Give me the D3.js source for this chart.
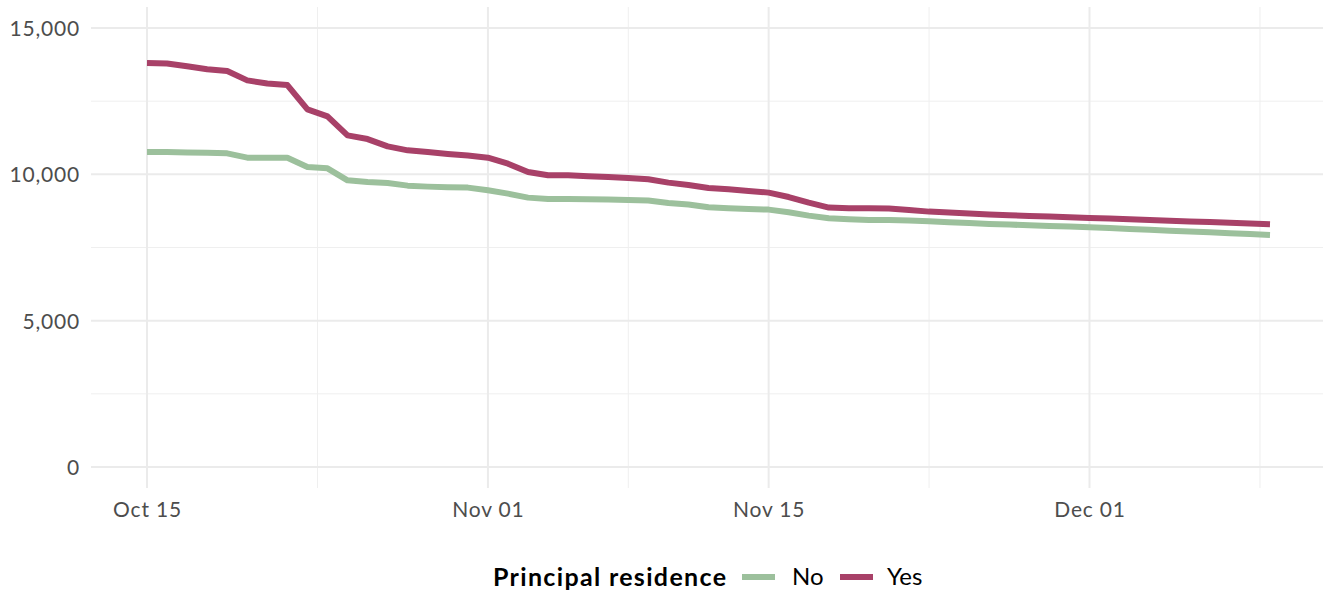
<!DOCTYPE html>
<html>
<head>
<meta charset="utf-8">
<script src="https://cdn.jsdelivr.net/npm/d3@7"></script>
<style>
  body { margin: 0; background: white; }
  svg text { font-family: Lato, "Open Sans", sans-serif; }
</style>
</head>
<body>
<svg id="chart" width="1323" height="592"></svg>
<script>
// daily counts, Oct 15 to Dec 10
var startDay = '2021-10-15'
var valuesNo = [10762, 10760, 10750, 10740, 10717, 10570, 10563, 10565, 10250, 10205,
  9795, 9737, 9703, 9614, 9580, 9556, 9546, 9454, 9340, 9204,
  9157, 9157, 9147, 9136, 9122, 9105, 9021, 8966, 8874, 8840,
  8817, 8795, 8703, 8590, 8498, 8464, 8442, 8442, 8420, 8396,
  8362, 8340, 8305, 8283, 8260, 8236, 8215, 8192, 8163, 8134,
  8104, 8075, 8046, 8017, 7988, 7958, 7928]
var valuesYes = [13800, 13790, 13690, 13590, 13530, 13210, 13105, 13050, 12220, 11980,
  11330, 11205, 10955, 10820, 10760, 10695, 10640, 10570, 10365, 10080,
  9966, 9966, 9932, 9910, 9874, 9830, 9717, 9635, 9533, 9488,
  9430, 9375, 9225, 9034, 8863, 8840, 8840, 8829, 8782, 8726,
  8692, 8658, 8624, 8601, 8578, 8556, 8533, 8510, 8487, 8463,
  8440, 8416, 8392, 8368, 8344, 8320, 8294]
var seriesNames = ['No', 'Yes']
var seriesColors = ['#9cc09c', '#a84168']
var xTickLabels = ['Oct 15', 'Nov 01', 'Nov 15', 'Dec 01']
var xTickDates = ['2021-10-15', '2021-11-01', '2021-11-15', '2021-12-01']
var xMinorDates = ['2021-10-23T12:00', '2021-11-08', '2021-11-23', '2021-12-09T12:00']
var yTicks = [0, 5000, 10000, 15000]
var yMinor = [2500, 7500, 12500]
var legendTitle = 'Principal residence'

var parse = function(s) { return new Date(s + (s.length > 10 ? ':00Z' : 'T00:00Z')) }
var t0 = parse(startDay)
var dates = valuesNo.map(function(v, i) { return d3.utcDay.offset(t0, i) })

var svg = d3.select('#chart')
var panel = {left: 91, right: 1330, top: 7, bottom: 488}

var x = d3.scaleUtc().domain([dates[0], dates[dates.length - 1]]).range([147, 1270])
var y = d3.scaleLinear().domain([0, 15000]).range([467, 28])

var grid = svg.append('g')
// minor grid
grid.selectAll('.ymin').data(yMinor).enter().append('line')
  .attr('x1', panel.left).attr('x2', panel.right)
  .attr('y1', d => y(d)).attr('y2', d => y(d))
  .style('stroke', '#efefef').style('stroke-width', 1)
grid.selectAll('.xmin').data(xMinorDates.map(parse)).enter().append('line')
  .attr('x1', d => x(d)).attr('x2', d => x(d))
  .attr('y1', panel.top).attr('y2', panel.bottom)
  .style('stroke', '#efefef').style('stroke-width', 1)
// major grid
grid.selectAll('.ymaj').data(yTicks).enter().append('line')
  .attr('x1', panel.left).attr('x2', panel.right)
  .attr('y1', d => y(d)).attr('y2', d => y(d))
  .style('stroke', '#ebebeb').style('stroke-width', 2)
grid.selectAll('.xmaj').data(xTickDates.map(parse)).enter().append('line')
  .attr('x1', d => x(d)).attr('x2', d => x(d))
  .attr('y1', panel.top).attr('y2', panel.bottom)
  .style('stroke', '#ebebeb').style('stroke-width', 2)

// axes labels
var yAxis = d3.axisLeft(y).tickValues(yTicks).tickSize(0).tickPadding(0).tickFormat(d3.format(','))
var gy = svg.append('g').attr('transform', 'translate(80,0)').call(yAxis)
gy.select('.domain').remove()
gy.selectAll('text').style('font-size', '21px').style('letter-spacing', '0.8px')
  .style('fill', '#4d4d4d').attr('dy', '0.35em')

var xAxis = d3.axisBottom(x).tickValues(xTickDates.map(parse)).tickSize(0).tickPadding(0)
  .tickFormat(function(d, i) { return xTickLabels[i] })
var gx = svg.append('g').attr('transform', 'translate(0,510)').call(xAxis)
gx.select('.domain').remove()
gx.selectAll('text').style('font-size', '21px').style('letter-spacing', '0.8px')
  .style('fill', '#4d4d4d').attr('dy', '0.35em').attr('y', 0)

// lines
var line = d3.line().x((d, i) => x(dates[i])).y(d => y(d))
;[valuesNo, valuesYes].forEach(function(vals, k) {
  svg.append('path')
    .attr('d', line(vals))
    .style('fill', 'none')
    .style('stroke', seriesColors[k])
    .style('stroke-width', 6)
    .style('stroke-linejoin', 'round')
})

// legend
var leg = svg.append('g').attr('transform', 'translate(0,577)')
leg.append('text').attr('x', 493).attr('dy', '0.35em')
  .attr('textLength', 233).attr('lengthAdjust', 'spacing')
  .style('font-size', '25px').style('font-weight', 'bold').style('fill', 'black')
  .text(legendTitle)
var keyX = [742, 840]
var labX = [792, 887]
seriesNames.forEach(function(name, k) {
  leg.append('line').attr('x1', keyX[k]).attr('x2', keyX[k] + 33).attr('y1', 0).attr('y2', 0)
    .style('stroke', seriesColors[k]).style('stroke-width', 6)
  leg.append('text').attr('x', labX[k]).attr('dy', '0.35em')
    .style('font-size', '24px').style('fill', 'black').text(name)
})
</script>
</body>
</html>
